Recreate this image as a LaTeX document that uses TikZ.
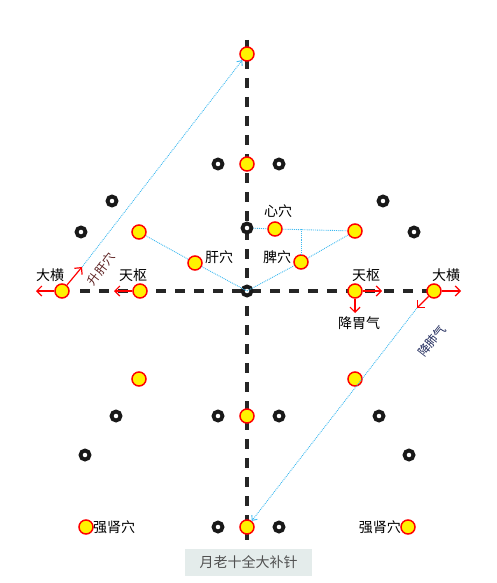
\documentclass[tikz,border=0pt]{standalone}
\usepackage{fontspec}
\newfontfamily\cjk{Noto Sans CJK SC}
\usetikzlibrary{arrows.meta}
\definecolor{skyline}{RGB}{60,185,240}
\definecolor{capbg}{RGB}{228,236,235}
\definecolor{captxt}{RGB}{80,80,80}

\begin{document}
\begin{tikzpicture}[x=1pt,y=-1pt,
	acup/.style={circle,draw=red,line width=1.5pt,fill=yellow,minimum size=14pt,inner sep=0pt},
	ring/.style={circle,draw=black!90,line width=3.8pt,fill=white,minimum size=9pt,inner sep=0pt},
	axis/.style={line width=4pt,draw=black!85,dash pattern=on 10pt off 9pt},
	flow/.style={draw=skyline,line width=0.9pt,densely dotted},
	push/.style={draw=red,line width=1.2pt,-{Straight Barb[length=5pt,width=10pt]}},
	lbl/.style={font=\cjk\fontsize{14}{16}\selectfont,inner sep=1pt}]
	\useasboundingbox (0,0) rectangle (496,583);
		\coordinate (Vtop) at (247,40);
		\coordinate (Vbot) at (247,540);
		\coordinate (Hl) at (80,291);
		\coordinate (Hr) at (428,291);
		\draw[axis] (Vtop) -- (Vbot);
		\draw[axis] (Hl) -- (Hr);
	% rings
		\node[ring] (O) at (247,291) {};
		\node[ring] (Xin) at (247,228) {};
		\node[ring] (r1) at (218,164) {};
		\node[ring] (r2) at (279,164) {};
		\node[ring] (r3) at (112,201) {};
		\node[ring] (r4) at (81,232) {};
		\node[ring] (r5) at (383,201) {};
		\node[ring] (r6) at (414,232) {};
		\node[ring] (r7) at (116,416) {};
		\node[ring] (r8) at (218,416) {};
		\node[ring] (r9) at (279,416) {};
		\node[ring] (r10) at (379,416) {};
		\node[ring] (r11) at (85,455) {};
		\node[ring] (r12) at (409,455) {};
		\node[ring] (r13) at (218,527) {};
		\node[ring] (r14) at (279,527) {};
	% points
		\node[acup] (Top) at (247,54) {};
		\node[acup] (Up) at (247,164) {};
		\node[acup] (XinX) at (275,229) {};
		\node[acup] (RU) at (355,231) {};
		\node[acup] (Pi) at (301,262) {};
		\node[acup] (Gan) at (195,263) {};
		\node[acup] (LU) at (139,232) {};
		\node[acup] (DHl) at (62,291) {};
		\node[acup] (TSl) at (140,291) {};
		\node[acup] (TSr) at (355,291) {};
		\node[acup] (DHr) at (434,291) {};
		\node[acup] (LD) at (139,379) {};
		\node[acup] (RD) at (355,379) {};
		\node[acup] (Low) at (247,416) {};
		\node[acup] (Bot) at (247,527) {};
		\node[acup] (QSl) at (86,527) {};
		\node[acup] (QSr) at (408,527) {};
	% flows
		\coordinate (jct) at (301,229);
		\coordinate (upA) at (82,267);
		\coordinate (dnA) at (417,308);
		\draw[flow] (LU) -- (Gan) -- (O.center);
		\draw[flow] (O.center) -- (Pi) -- (RU);
		\draw[flow] (Xin) -- (XinX) -- (RU);
		\draw[flow] (jct) -- (Pi);
		\draw[flow,-{Straight Barb[length=4pt,width=7pt]}] (upA) -- (Top);
		\draw[flow,-{Straight Barb[length=4pt,width=7pt]}] (dnA) -- (Bot);
	% red arrows
		\coordinate (aL) at (36,291);
		\coordinate (aTl) at (114,291);
		\coordinate (aTr) at (382,291);
		\coordinate (aTd) at (355,313);
		\coordinate (aR) at (461,291);
		\draw[push] (DHl) -- (aL);
		\draw[push] (DHl) -- (upA);
		\draw[push] (TSl) -- (aTl);
		\draw[push] (TSr) -- (aTr);
		\draw[push] (TSr) -- (aTd);
		\draw[push] (DHr) -- (aR);
		\draw[push] (DHr) -- (dnA);
	% labels
		\node[lbl] (tDHl) at (50,275) {大横};
		\node[lbl] (tTSl) at (133,275) {天枢};
		\node[lbl] (tGan) at (219,257) {肝穴};
		\node[lbl] (tXin) at (278,211) {心穴};
		\node[lbl] (tPi) at (277,257) {脾穴};
		\node[lbl] (tTSr) at (366,275) {天枢};
		\node[lbl] (tDHr) at (446,275) {大横};
		\node[lbl] (tJW) at (359,323) {降胃气};
		\node[lbl,anchor=west] (tQSl) at (92,527) {强肾穴};
		\node[lbl,anchor=east] (tQSr) at (402,527) {强肾穴};
		\node[lbl,font=\cjk\fontsize{12}{14}\selectfont,text={rgb,255:red,90;green,30;blue,30},rotate=53,inner sep=0pt] (tSG) at (101,269) {升肝穴};
		\node[lbl,font=\cjk\fontsize{12}{14}\selectfont,text={rgb,255:red,30;green,40;blue,90},rotate=52,inner sep=0pt] (tJF) at (432,341) {降肺气};
		\node[fill=capbg,text=captxt,font=\cjk\fontsize{14}{16}\selectfont,minimum width=127pt,minimum height=27pt,inner sep=0pt] (cap) at (248.5,562.5) {月老十全大补针};
\end{tikzpicture}
\end{document}
